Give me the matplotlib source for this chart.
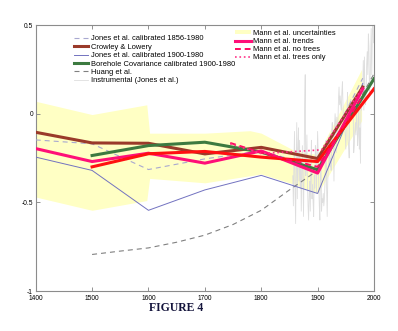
import matplotlib
matplotlib.use('Agg')
import matplotlib.pyplot as plt
from matplotlib.ticker import FixedLocator, FixedFormatter

plt.rcParams['font.family'] = ['Liberation Sans', 'DejaVu Sans']
plt.rcParams['axes.unicode_minus'] = False

# century-scale reconstructions (anomaly, deg C)
century_years = [1400, 1500, 1600, 1700, 1800, 1900, 1980]
crowley = [-0.105, -0.165, -0.167, -0.227, -0.19, -0.253, 0.15]
jones_1856 = [-0.148, -0.17, -0.315, -0.255, -0.21, -0.30, 0.20]
jones_1900 = [-0.245, -0.32, -0.545, -0.43, -0.348, -0.45, 0.17]
mann_trends = [-0.197, -0.27, -0.223, -0.279, -0.21, -0.335, 0.14]

borehole_years = [1500, 1600, 1700, 1800, 1900, 2000]
borehole = [-0.236, -0.18, -0.161, -0.217, -0.316, 0.197]
red_years = [1500, 1600, 1700, 1800, 1900, 2000]
red_vals = [-0.30, -0.226, -0.213, -0.245, -0.27, 0.14]

huang_years = [1500, 1550, 1600, 1650, 1700, 1750, 1800, 1850, 1900, 1950, 2000]
huang = [-0.794, -0.775, -0.757, -0.725, -0.685, -0.625, -0.545, -0.43, -0.32, -0.06, 0.225]

no_trees_years = [1745, 1800, 1900, 1980]
no_trees = [-0.165, -0.22, -0.30, 0.10]
trees_only_years = [1745, 1800, 1907, 1980]
trees_only = [-0.17, -0.225, -0.204, 0.15]

# uncertainty envelope
band_years = [1400, 1500, 1597, 1602, 1700, 1780, 1800, 1860, 1900, 1978]
band_upper = [0.07, -0.005, 0.05, -0.11, -0.11, -0.096, -0.11, -0.21, -0.23, 0.25]
band_lower = [-0.47, -0.545, -0.49, -0.365, -0.39, -0.35, -0.34, -0.40, -0.45, -0.04]

# annual instrumental record 1856-1999
instr_years = list(range(1856, 2000))
instr = [
    -0.35, -0.52, -0.28, -0.10,
    -0.45, -0.62, -0.30, -0.05, -0.48, -0.20, -0.08, -0.38, -0.15, -0.42,
    -0.25, -0.55, -0.33, -0.18, -0.40, -0.58, -0.30, 0.05, 0.22, -0.35,
    -0.28, -0.12, -0.40, -0.52, -0.60, -0.45, -0.38, -0.55, -0.30, -0.15,
    -0.48, -0.40, -0.50, -0.58, -0.35, -0.42, -0.18, -0.20, -0.45, -0.25,
    -0.10, -0.22, -0.40, -0.52, -0.60, -0.35, -0.25, -0.55, -0.48, -0.50,
    -0.45, -0.52, -0.48, -0.40, -0.22, -0.15, -0.42, -0.58, -0.38, -0.30,
    -0.28, -0.12, -0.30, -0.25, -0.32, -0.10, -0.05, -0.18, -0.15, -0.38,
    -0.08, 0.00, -0.05, -0.22, -0.02, -0.12, -0.05, 0.08, 0.15, 0.05,
    0.10, 0.05, 0.02, 0.12, 0.18, 0.05, -0.05, 0.00, -0.08, -0.12,
    -0.20, -0.05, 0.00, 0.12, -0.15, -0.18, -0.25, 0.05, 0.08, 0.02,
    -0.02, 0.08, 0.03, 0.05, -0.22, -0.18, -0.10, -0.05, -0.12, 0.02,
    -0.05, -0.18, -0.12, 0.12, -0.20, -0.08, -0.28, 0.10, 0.02, 0.08,
    0.15, 0.30, 0.02, 0.32, 0.08, 0.05, 0.12, 0.28, 0.35, 0.22,
    0.45, 0.38, 0.10, 0.18, 0.28, 0.48, 0.22, 0.42, 0.62, 0.40,
]

xticks = [1400, 1500, 1600, 1700, 1800, 1900, 2000]
yticks = [-1, -0.5, 0, 0.5]
ytick_labels = ['-1', '-0.5', '0', '0.5']

fig = plt.figure(figsize=(3.98, 3.31), dpi=100)
ax = fig.add_axes([35.7/398, 40/331, 338.3/398, 266/331])

band = ax.fill_between(band_years, band_lower, band_upper, color='#ffffc4',
                       lw=0, zorder=1, label='Mann et al. uncertainties')
l_instr, = ax.plot(instr_years, instr, color='#dedede', lw=0.6, zorder=2,
                   label='Instrumental (Jones et al.)')
l_huang, = ax.plot(huang_years, huang, color='#808080', lw=0.8,
                   dashes=(4.5, 3.6), zorder=3, label='Huang et al.')
l_j56, = ax.plot(century_years, jones_1856, color='#a8a8d0', lw=0.8,
                 dashes=(4.5, 3.6), zorder=3,
                 label='Jones et al. calibrated 1856-1980')
l_j00, = ax.plot(century_years, jones_1900, color='#7272c0', lw=0.7,
                 zorder=3, label='Jones et al. calibrated 1900-1980')
l_crow, = ax.plot(century_years, crowley, color='#9a3a2a', lw=2.2,
                  zorder=4, label='Crowley & Lowery')
l_bore, = ax.plot(borehole_years, borehole, color='#3c7a40', lw=2.2,
                  zorder=5, label='Borehole Covariance calibrated 1900-1980')
l_trend, = ax.plot(century_years, mann_trends, color='#ff0f78', lw=2.2,
                   zorder=6, label='Mann et al. trends')
ax.plot(red_years, red_vals, color='#ff1010', lw=2.2, zorder=6)
l_notr, = ax.plot(no_trees_years, no_trees, color='#ff0a60', lw=1.4,
                  dashes=(3, 2), zorder=7, label='Mann et al. no trees')
l_tronly, = ax.plot(trees_only_years, trees_only, color='#ff3388', lw=1.2,
                    ls=':', zorder=7, label='Mann et al. trees only')

ax.set_xlim(1400, 2000)
ax.set_ylim(-1, 0.5)
ax.xaxis.set_major_locator(FixedLocator(xticks))
ax.yaxis.set_major_locator(FixedLocator(yticks))
ax.yaxis.set_major_formatter(FixedFormatter(ytick_labels))
ax.tick_params(direction='in', top=True, right=True, length=3, width=0.6,
               color='#808080', labelsize=4.8)
ax.tick_params(axis='x', pad=3)
ax.tick_params(axis='y', pad=2)
for spine in ax.spines.values():
    spine.set_color('#8c8c8c')
    spine.set_linewidth(0.8)

leg1 = ax.legend(handles=[l_j56, l_crow, l_j00, l_bore, l_huang, l_instr],
                 loc='upper left', bbox_to_anchor=(74/398, 1 - 35/331),
                 bbox_transform=fig.transFigure, frameon=False, fontsize=5.4,
                 borderpad=0, borderaxespad=0, labelspacing=0.16,
                 handlelength=1.9, handletextpad=0.4)
ax.add_artist(leg1)
ax.legend(handles=[band, l_trend, l_notr, l_tronly],
          loc='upper left', bbox_to_anchor=(235/398, 1 - 30/331),
          bbox_transform=fig.transFigure, frameon=False, fontsize=5.4,
          borderpad=0, borderaxespad=0, labelspacing=0.14,
          handlelength=2.1, handletextpad=0.3, handleheight=0.4)

fig.text(176/398, 1 - 308/331, 'FIGURE 4', ha='center', va='center',
         family='Liberation Serif', fontweight='bold', fontsize=8.5,
         color='#14143c')

fig.savefig('out.png', dpi=100)
